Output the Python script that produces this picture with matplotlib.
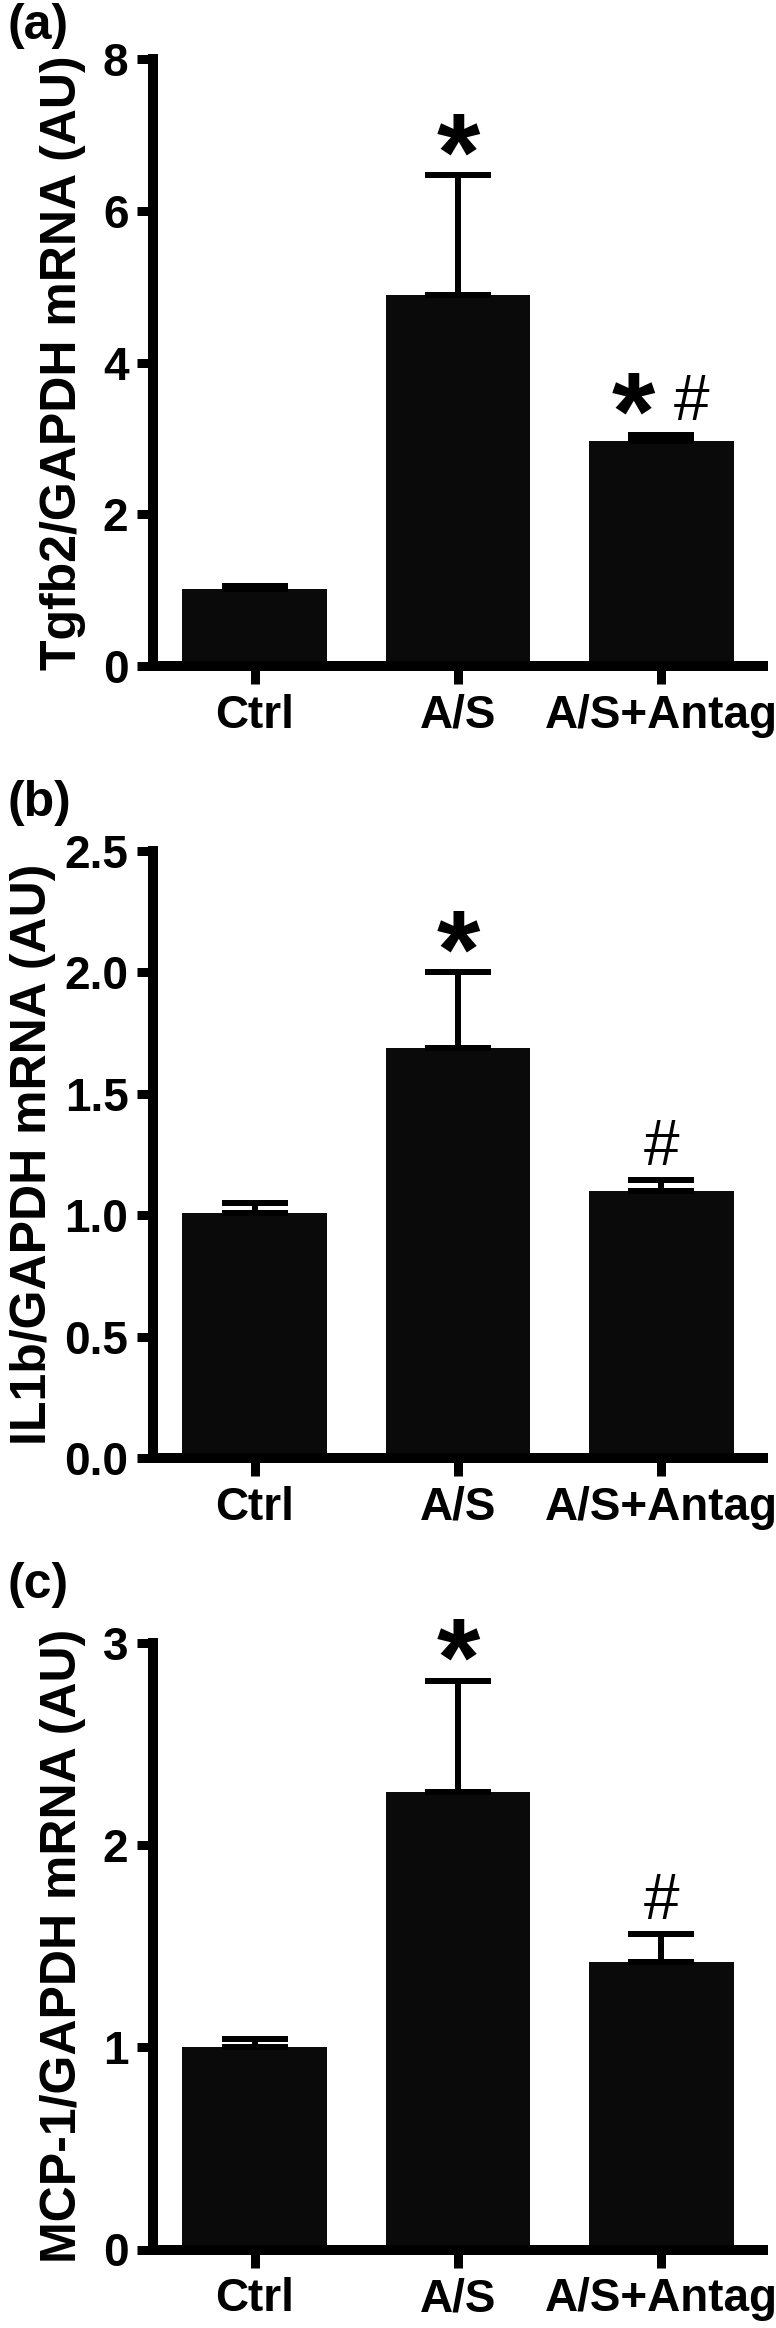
import numpy as np
import matplotlib
matplotlib.use("Agg")
import matplotlib.pyplot as plt

plt.rcParams["font.family"] = ["Liberation Sans", "DejaVu Sans"]
plt.rcParams["font.weight"] = "bold"

W, H, DPI = 776, 2328, 100
PT = 72 / DPI  # points per pixel

categories = ["Ctrl", "A/S", "A/S+Antag"]

tgfb2_mean = [1.01, 4.89, 2.97]
tgfb2_err = [0.04, 1.58, 0.08]
tgfb2_marks = ["", "*", "*#"]

il1b_mean = [1.01, 1.69, 1.10]
il1b_err = [0.04, 0.31, 0.045]
il1b_marks = ["", "*", "#"]

mcp1_mean = [1.00, 2.26, 1.42]
mcp1_err = [0.04, 0.55, 0.14]
mcp1_marks = ["", "*", "#"]

panels = [
    ("(a)", "Tgfb2/GAPDH mRNA (AU)", tgfb2_mean, tgfb2_err, tgfb2_marks,
     [0, 2, 4, 6, 8], ["0", "2", "4", "6", "8"]),
    ("(b)", "IL1b/GAPDH mRNA (AU)", il1b_mean, il1b_err, il1b_marks,
     [0, 0.5, 1.0, 1.5, 2.0, 2.5], ["0.0", "0.5", "1.0", "1.5", "2.0", "2.5"]),
    ("(c)", "MCP-1/GAPDH mRNA (AU)", mcp1_mean, mcp1_err, mcp1_marks,
     [0, 1, 2, 3], ["0", "1", "2", "3"]),
]

# pixel layout of the three panels
ax_left, ax_right = 152.8, 763.0
ax_tops = [59, 851, 1642.5]
ax_bottoms = [666, 1458, 2249.5]
label_tops = [3, 780, 1562]
ylabel_x = [63.5, 33.5, 63]

BAR_COLOR = "#0a0a0a"

fig = plt.figure(figsize=(W / DPI, H / DPI), dpi=DPI)


def mark(ax, txt, xy, dx):
    # star is bold and big, hash is thin
    if txt == "*":
        ax.annotate("*", xy, xytext=(dx * PT, -15 * PT), textcoords="offset points",
                    ha="center", va="baseline", fontsize=80, fontweight="bold")
    else:
        ax.annotate("#", xy, xytext=(dx * PT, 15 * PT), textcoords="offset points",
                    ha="center", va="baseline", fontsize=46, fontweight="normal")


for i, (tag, ylab, mean, err, marks, yt, ytl) in enumerate(panels):
    top, bot = ax_tops[i], ax_bottoms[i]
    ax = fig.add_axes([ax_left / W, 1 - bot / H, (ax_right - ax_left) / W, (bot - top) / H])
    x = np.arange(len(categories))

    ax.bar(x, mean, width=0.71, color=BAR_COLOR, zorder=2)
    lower = np.zeros(len(mean))
    ax.errorbar(x, mean, yerr=[lower, err], fmt="none", ecolor="black",
                elinewidth=6 * PT, capsize=33.5 * PT, capthick=6 * PT, zorder=3)

    for xi, m, e, mk in zip(x, mean, err, marks):
        top_val = m + e
        if mk == "*#":
            mark(ax, "*", (xi, top_val), -28)
            mark(ax, "#", (xi, top_val), 30)
        elif mk:
            mark(ax, mk, (xi, top_val), 0)

    ax.set_xlim(-0.5, 2.5)
    ax.set_ylim(yt[0], yt[-1])
    ax.set_xticks(x)
    ax.set_xticklabels(categories, fontsize=33, fontweight="bold")
    ax.set_yticks(yt)
    ax.set_yticklabels(ytl, fontsize=33, fontweight="bold")

    for side in ["top", "right"]:
        ax.spines[side].set_visible(False)
    for side in ["left", "bottom"]:
        ax.spines[side].set_linewidth(10 * PT)
        ax.spines[side].set_capstyle("projecting")
    ax.tick_params(axis="both", direction="out", length=16 * PT, width=9 * PT, pad=6)
    ax.tick_params(axis="x", length=18 * PT, pad=7)

    # y label placed by hand (GraphPad-like offset differs per panel)
    fig.text(ylabel_x[i] / W, 1 - (top + bot) / 2 / H, ylab, rotation=90,
             fontsize=36, fontweight="bold", ha="center", va="center")

    fig.text(7 / W, 1 - label_tops[i] / H, tag, fontsize=36, fontweight="bold",
             ha="left", va="top")

fig.savefig("out.png", dpi=DPI)
